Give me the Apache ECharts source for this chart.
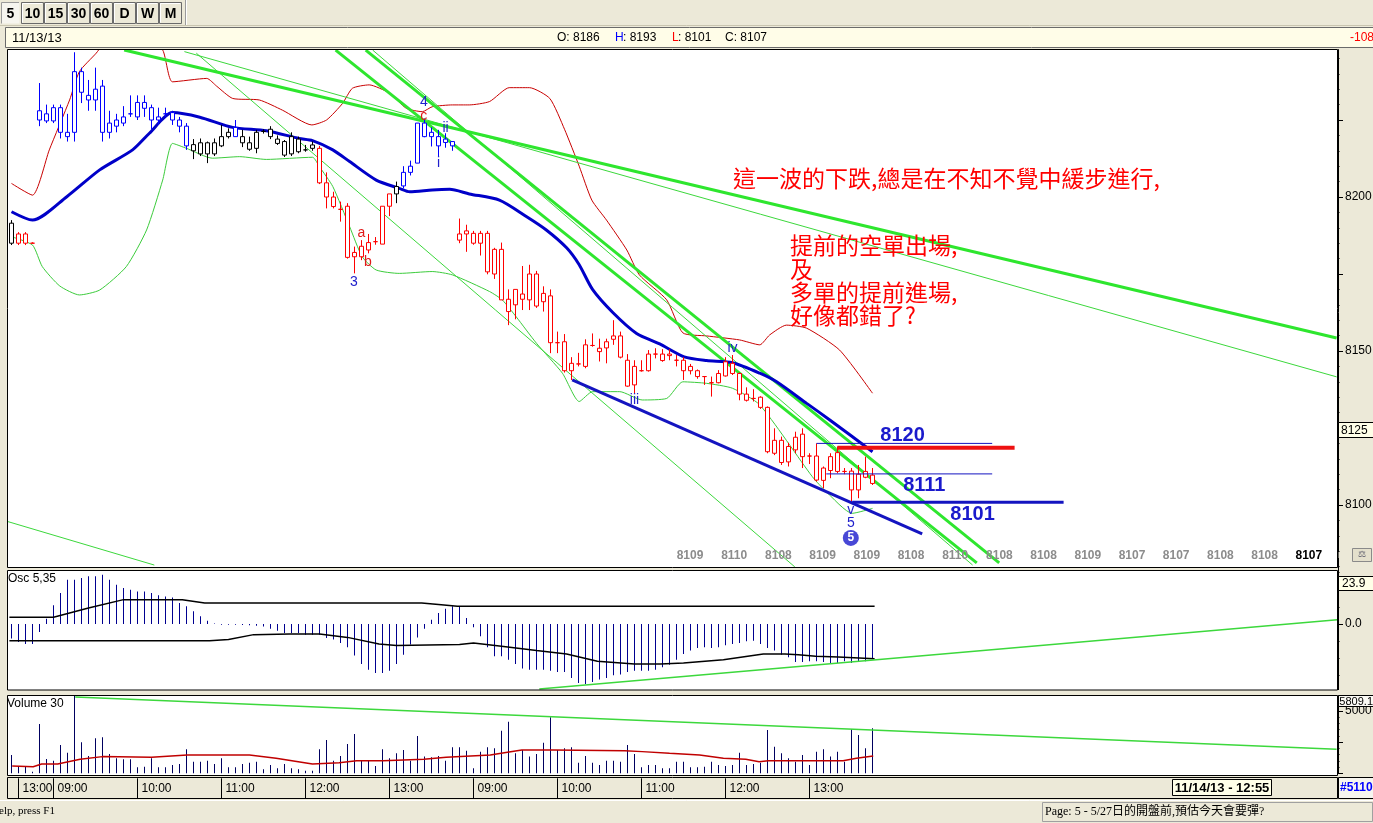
<!DOCTYPE html>
<html><head><meta charset="utf-8">
<script src="https://cdn.jsdelivr.net/npm/echarts@6.0.0/dist/echarts.min.js"></script>
<style>html,body{margin:0;padding:0;background:#ece9d8;overflow:hidden}#chart{width:1373px;height:823px}</style>
</head><body><div id="chart"></div>
<script>
// ================= DATA =================
// 5-minute candles: [open, close, low, high]
const candles = [
[8191.5,8185,8184.4,8192.5],[8185,8188,8184.4,8188.6],[8188,8185,8184.4,8188.6],[8185,8185,8185,8185.3],
[8225,8228,8223,8237],[8227,8224.7,8224,8230],[8224.7,8229,8224,8230],[8229,8221,8219,8230],
[8219.6,8221,8218,8227],[8221,8240.7,8218,8247],[8240.7,8234,8230.5,8242],[8233,8231.5,8228,8238],
[8231.5,8235,8228,8242],[8236,8221,8218,8238],[8221,8224,8219,8228],[8223,8225,8221,8227],
[8224,8226,8223,8229.5],[8227,8227,8226,8233],[8226,8230.7,8225,8233],[8230.7,8228.8,8226,8233],
[8229,8225,8222,8230],[8225,8226,8223.4,8229],[8227,8227,8226,8229],[8227.4,8225,8223.4,8228],
[8225,8223,8221,8226],[8223,8216.6,8215.3,8224],[8217,8215,8212.3,8218.8],[8214,8217.6,8213.3,8219],
[8217.6,8214,8211,8218],[8214,8217.6,8213.3,8219],[8216.6,8219.6,8216.2,8223.4],[8219.6,8221,8219,8222.3],
[8222.6,8219.6,8219.6,8225],[8219.6,8217.6,8216.2,8221.8],[8217.6,8215.5,8215,8219.6],[8215.8,8221,8214.2,8221.8],
[8221.3,8221.3,8220.6,8222],[8222,8219.6,8218.8,8223],[8218.8,8217.4,8216.9,8220],[8218,8213.6,8213,8218.5],
[8214,8219.6,8213.3,8221],[8218.8,8214.7,8214.2,8219.6],[8215.3,8215.3,8214.7,8216.9],[8215.8,8216.9,8215,8218],
[8215.8,8204.6,8204.2,8216.6],[8204.6,8200,8196.3,8208],[8200,8196.9,8196.3,8201.7],[8196,8196,8192,8198.5],
[8197,8180.4,8180,8198],[8180.6,8182,8175.2,8183.9],[8180.6,8184,8179.5,8186],[8182.8,8185.2,8181.7,8188],
[8185.5,8185.5,8184.5,8187],[8184.7,8197,8184.7,8197],[8197,8201,8193.8,8201],[8201,8203.4,8198,8205],
[8203.6,8208,8202.8,8210],[8208,8210,8207,8211.8],[8211,8224,8211,8224],[8224,8219.6,8219.4,8225.5],
[8221,8219.6,8216.4,8222.6],[8219.6,8216.6,8213,8221.8],[8217.7,8218.8,8216,8220.7],[8218,8216.6,8215,8218],
[8186,8188,8185,8193],[8188,8189,8182.2,8191],[8188.2,8185,8184.5,8189],[8185,8188.2,8181,8189],
[8188.2,8175.7,8174.9,8189],[8175,8183,8173.4,8183.5],[8183,8166.6,8166.6,8185.2],[8166.8,8162.8,8158.4,8170],
[8165,8170,8160.3,8170],[8168.5,8166.8,8163.3,8177.6],[8166.6,8175,8163.3,8178],[8175,8164.6,8164,8176],
[8166,8168.7,8162.8,8171],[8167.9,8152.7,8149.3,8170],[8152.7,8152.7,8149.3,8156.3],[8153,8143.6,8143,8155.5],
[8143.6,8146,8140.6,8148],[8145.8,8145.8,8145,8149.4],[8145,8152,8144.4,8153.8],[8151.8,8151.8,8151.4,8155.7],
[8150.9,8149.8,8146.6,8154],[8151,8153,8146,8154],[8153.8,8154.9,8152,8160],[8154.9,8148,8147.6,8156.3],
[8147,8138.6,8138.4,8149],[8139,8145,8136.3,8147],[8143.6,8143.6,8143.3,8147],[8143.6,8149,8143.3,8150.3],
[8149,8149,8147.6,8150.9],[8149,8146.9,8146.5,8150.6],[8148.5,8149,8147,8150.6],[8147,8147,8145,8148.7],
[8147,8143.6,8140.6,8148],[8145,8143.6,8142.4,8145.8],[8143.6,8141.7,8141,8144],[8141.7,8141.7,8139,8141.8],
[8139.7,8139.7,8135.2,8141.7],[8139.7,8142.7,8139.5,8143.8],[8141.9,8146.5,8141.7,8148],[8146,8142.7,8142.2,8148.7],
[8142.7,8136,8134,8143],[8136,8134,8133.6,8138.2],[8134.6,8134.6,8133.6,8137.6],[8135,8131.7,8131.2,8135.3],
[8131.7,8117.3,8116.8,8132],[8116.8,8121,8116.2,8124.9],[8121,8113.8,8113,8122.2],[8114,8119,8112.5,8120.2],
[8117.9,8122,8116.8,8123.8],[8123,8115.7,8112,8124.9],[8115.9,8115.9,8113.3,8116.8],[8115.9,8108.1,8107.6,8120],
[8108,8112,8105.4,8112.5],[8111.2,8115.7,8108.7,8116.8],[8117,8110.9,8110.3,8119],[8110.9,8110.9,8110,8112],
[8111,8104.9,8101,8112],[8104.9,8110,8102.2,8113],[8109,8110.9,8108.7,8115.7],[8109.7,8107,8106.5,8112]
];
// moving average (thick blue), upper band (red), lower band (green): [barIndex, price]
const maLine = [[0,8195.2],[3,8192.5],[7.9,8200.1],[12.6,8208.8],[17.3,8215.3],[19.7,8220.7],[23,8227.4],[26.9,8225.9],[31.6,8222.6],[36.4,8221.5],[41.1,8219],[43,8218.3],[45.9,8215.3],[48.3,8211.5],[52.1,8205.5],[55.4,8202.8],[56.9,8201.7],[60.1,8202.3],[62.6,8202.5],[65.4,8201],[69.7,8199],[73.6,8193.6],[76.4,8189.3],[79.3,8183.5],[81.1,8178],[83,8170],[85.9,8162.5],[89.3,8155.7],[92.6,8152.3],[96.1,8148.1],[99.3,8146.9],[103,8146.2],[106.9,8142.8],[109.3,8140],[113.6,8133],[116.9,8127.6],[123,8117.3]];
const upperBand = [[0,8204.4],[3,8200.6],[5.4,8215.3],[8.3,8231.5],[9.7,8240.7],[12.1,8246.7],[14,8252],[18.3,8255],[21.6,8247.7],[23,8237.4],[27.9,8238.5],[29.3,8236],[31.6,8232],[35.4,8231.5],[38.7,8228.2],[42.9,8223.4],[45,8225],[47.3,8230.4],[48.7,8235.3],[51.1,8236.4],[54,8233.7],[56.4,8228.8],[58.7,8227.7],[60.1,8229.3],[63,8229.9],[65.4,8229.9],[68.3,8231],[71.1,8235.5],[74,8235.5],[76.9,8232],[79,8222],[81.1,8210],[82.9,8199],[85,8192.5],[87.9,8182.8],[89.7,8174.7],[93.6,8166.6],[95.9,8155.9],[99.3,8154.9],[104,8153.6],[106.9,8152],[108.3,8155.2],[110.7,8158.4],[113.6,8157.4],[118.3,8150.3],[123,8136.3]];
const lowerBand = [[0,8187.1],[3,8184.4],[4.4,8177.4],[6.9,8171.1],[9.7,8168.2],[12.6,8169.8],[16.4,8177.4],[19.3,8189.3],[21.6,8205.5],[23,8217.4],[25,8215.8],[28.7,8212.6],[32.6,8213.1],[36.4,8212.2],[43,8212.9],[44,8209.8],[45.9,8203.4],[48.3,8190.4],[50.1,8180.6],[52.1,8176.3],[55.4,8175.2],[60.1,8175.8],[63,8174.7],[68.3,8169.3],[70.1,8166.6],[72.1,8161.1],[75,8152.5],[78.7,8142.8],[81.1,8133.6],[83,8136.8],[86.9,8136.8],[90.1,8134.1],[93.6,8134.6],[95.9,8140],[99.3,8139.5],[103,8137.9],[106.9,8132.5],[114.4,8109.2],[116.4,8104.3],[120.1,8097.3],[123,8098.9]];
// hand-drawn trend lines: [[barIndex, price],[barIndex, price]]
const thickGreenLines = [[[16.1,8247.7],[189.3,8154.2]],[[46.3,8247.7],[137.9,8081.2]],[[50.6,8247.7],[141.1,8081.2]]];
const thinGreenLines = [[[24.7,8247.2],[189.3,8141.6]],[[26.4,8246.7],[111.9,8079.9]],[[-0.5,8094.6],[20.4,8080.5]],[[51.6,8247.7],[137.3,8080.5]]];
const blueChannel = [[80.1,8140.6],[130.1,8090.6]];
const level8120 = [[115,8120],[140.1,8120]];
const redLevel = [[118,8118.6],[143.3,8118.6]];
const level8111 = [[116.4,8110.1],[140.1,8110.1]];
const level8101 = [[120.1,8100.9],[150.3,8100.9]];
const levelLabels = [['8120',127.3,8122.7],['8111',130.4,8106.2],['8101',137.3,8097]];
const waveLabels = [['4',58.9,8230.8],['c',58.9,8226.3],['ii',62,8222.4],['i',61,8211],['3',48.9,8172.4],['a',50,8188.3],['b',50.9,8178.9],['iii',89,8134.1],['iv',103,8151],['v',119.9,8098.4],['5',119.9,8094.2]];
const circledWave = [['5',119.9,8089.3]];
const projValues = ['8109','8110','8108','8109','8109','8108','8110','8108','8108','8109','8107','8107','8108','8108','8107'];
// oscillator 5,35 histogram
const osc = [-8.5,-10.5,-11.7,-11.7,-4.7,3.1,10.9,18.1,25.8,25.8,
26.8,27.8,27.8,28.7,25.8,22.9,21,20,19,19,
18.1,16.7,16.1,15.5,12.2,10.3,7.4,4.5,1.9,0.3,
-0.4,-0.5,-0.5,-0.6,-0.8,-1.0,-1.5,-2.7,-3.9,-5.2,
-5.2,-5.2,-6.2,-6.2,-6.2,-8.2,-9.1,-11.1,-13.6,-18.3,
-23.3,-26.6,-28.5,-28.5,-27.2,-23.3,-17.9,-12,-7.8,-2.7,
2.5,6.4,8.9,10.3,10.3,3.5,-1.9,-7.2,-13.6,-18.8,
-18.8,-20.8,-23.3,-26,-26.6,-26.6,-26.6,-27.2,-28,-28,
-31.5,-34.4,-35,-33.8,-32.4,-31.5,-29.9,-29.5,-28,-27.2,
-27.2,-27.2,-26.6,-25.2,-23.7,-20.8,-17.5,-15.5,-14,-13.6,
-14,-13.6,-12.4,-11.7,-11.1,-10.1,-9.7,-11.7,-14,-15.5,
-17.9,-19.4,-22.1,-22.1,-21.7,-21.7,-22.1,-22.7,-22.7,-21.7,
-22.7,-22.1,-21.7,-19.8];
const oscUpper = [[-0.3,3.9],[6,3.9],[11,9.3],[16,14.2],[24.4,14.2],[27.6,12.2],[58.6,12.2],[61,11.3],[63.7,10.3],[123.3,10.3]];
const oscLower = [[-0.3,-9.7],[28.3,-9.7],[31,-9],[34.6,-6.2],[39.7,-5.8],[44,-5.8],[48,-7.8],[52.5,-11.7],[55,-12.6],[64,-12],[66,-11.1],[70,-13],[75,-15.5],[79.3,-17.5],[83.7,-21.7],[89,-23.3],[92.7,-23.3],[96,-22.7],[101.7,-20.8],[107.4,-17.5],[110.5,-17.5],[112.4,-17.9],[114.9,-18.8],[118.1,-19.2],[123.3,-20.2]];
const oscTrend = [[75.4,-37.9],[189.4,2.5]];
// volume
const volume = [1469,530,530,128,3957,1148,1011,2271,1653,6204,
2488,1388,2809,2889,1549,1204,1124,1124,482,530,
1204,482,482,666,746,1926,931,931,1011,746,
1204,482,482,746,852,931,321,666,401,746,
401,321,209,209,1926,2675,1011,1388,2351,3154,
1011,1011,594,1926,1204,1605,1872,1011,2996,1338,
1284,1388,1011,2087,2087,1819,401,1739,2087,2007,
3421,4143,1605,1872,1338,1549,2458,4494,1872,2007,
2087,852,1388,852,666,1011,1011,931,2271,1549,
482,666,666,401,401,931,931,482,482,530,
931,666,586,666,1653,666,746,852,3475,2135,
1605,1204,931,1469,666,1739,1926,1338,1739,931,
3531,3074,2007,3612];
const volumeMA = [[0.1,586],[3.1,530],[4.3,746],[6.6,746],[9.8,1124],[13,1338],[20,1284],[25.1,1469],[34,1469],[37.8,1204],[43,746],[46.8,852],[49.3,1011],[53.1,1011],[58.9,1124],[62.1,1284],[68.4,1469],[70.4,1653],[72.9,1872],[77.4,1872],[87.6,1819],[90.1,1739],[94,1605],[98.3,1469],[101.7,1204],[104.9,1124],[106.8,931],[108.1,1011],[118.8,1011],[120.7,1204],[123.1,1388]];
const volumeTrend = [[9.1,6130],[189.3,1926]];
// time axis
const timeTickIndex = [1,6,18,30,42,54,66,78,90,102,114];
const timeTickText = ['13:00','09:00','10:00','11:00','12:00','13:00','09:00','10:00','11:00','12:00','13:00'];
const SLOTS = 190;
const categories = [];
['13:30','13:35','13:40','13:45'].forEach(t => categories.push('11/12 ' + t));
['11/13','11/14'].forEach(d => { for (let m = 8*60+50; m <= 13*60+45; m += 5) categories.push(d + ' ' + String(Math.floor(m/60)).padStart(2,'0') + ':' + String(m%60).padStart(2,'0')); });
while (categories.length < SLOTS) categories.push('');

// ================= STYLE =================
const BLUE='#0000ff', RED='#ff0000', BLACK='#000000';
const candleColorRuns = [[0,0,BLACK],[1,3,RED],[4,25,BLUE],[26,31,BLACK],[32,32,BLUE],[33,43,BLACK],[44,54,RED],[55,55,BLACK],[56,63,BLUE],[64,123,RED]];
function candleColor(i){ for (const r of candleColorRuns) if (i>=r[0] && i<=r[1]) return r[2]; return RED; }
const waveColors = {a:'#e01a1a', b:'#e01a1a', c:'#e01a1a'};
const FONT = 'Arial, "Liberation Sans", sans-serif';
const NARROWF = '"Liberation Sans Narrow","Arial Narrow",Arial,sans-serif';
const CHROME = '#ece9d8';

const chart = echarts.init(document.getElementById('chart'), null, {renderer:'canvas'});

const candleData = candles.map((d,i) => { const c = candleColor(i); return {value:d, itemStyle:{color:'#ffffff', color0:c, borderColor:c, borderColor0:c, borderColorDoji:c}}; });

function line(data, color, width, xi, yi, z, smooth){
  return {type:'line', xAxisIndex:xi, yAxisIndex:yi, data, symbol:'none', silent:true, smooth: smooth||false, z: z||3, lineStyle:{color, width}};
}
const tickSet = new Set(timeTickIndex);
const tickMap = {}; timeTickIndex.forEach((ix,k)=> tickMap[ix] = timeTickText[k]);
const txtLabel = (text, color, size, weight) => ({show:true, position:'inside', formatter:text, color, fontSize:size, fontWeight:weight||'normal', fontFamily:FONT, textBorderWidth:0, textShadowBlur:0, opacity:1});

const series = [];
series.push(line(lowerBand,'#3ccc3c',1,1,0,3,0.2));
series.push(line(upperBand,'#c80000',1,1,0,3,0.2));
thinGreenLines.forEach(s => series.push(line(s,'#3cd83c',1,1,0,3)));
thickGreenLines.forEach(s => series.push(line(s,'#2ee62e',3,1,0,3)));
series.push(line(maLine,'#0000c8',3,1,0,4,0.25));
series.push({type:'candlestick', xAxisIndex:0, yAxisIndex:0, data:candleData, barWidth:5, z:5, silent:true});
series.push(line(blueChannel,'#1414c0',3,1,0,6));
series.push(line(level8120,'#1414c0',1,1,0,6));
series.push(line(level8111,'#1414c0',1,1,0,6));
series.push(line(redLevel,'#ee1111',4,1,0,6));
series.push(line(level8101,'#1414c0',3,1,0,6));
series.push({type:'scatter', xAxisIndex:1, yAxisIndex:0, silent:true, z:10, symbolSize:1, itemStyle:{color:'#ffffff', opacity:0},
  data: levelLabels.map(l => ({value:[l[1],l[2]], label: txtLabel(l[0], '#1a1acc', 20, 'bold')}))});
series.push({type:'scatter', xAxisIndex:1, yAxisIndex:0, silent:true, z:10, symbolSize:1, itemStyle:{color:'#ffffff', opacity:0},
  data: waveLabels.map(l => ({value:[l[1],l[2]], label: txtLabel(l[0], waveColors[l[0]] || '#2020cc', 14)}))});
series.push({type:'scatter', xAxisIndex:1, yAxisIndex:0, silent:true, z:10, symbol:'circle', symbolSize:16, itemStyle:{color:'#1a1acc'},
  data: circledWave.map(l => ({value:[l[1],l[2]], label: txtLabel(l[0], '#ffffff', 12, 'bold')}))});
// oscillator
series.push({type:'bar', xAxisIndex:2, yAxisIndex:1, data:osc, barWidth:1, silent:true, itemStyle:{color:'#000090'}, z:3});
series.push(line(oscUpper,'#000',1.5,3,1,4));
series.push(line(oscLower,'#000',1.5,3,1,4));
series.push(line(oscTrend,'#3cd83c',1.5,3,1,5));
// volume
series.push({type:'bar', xAxisIndex:4, yAxisIndex:2, data:volume, barWidth:1, silent:true, itemStyle:{color:'#000060'}, z:3});
series.push(line(volumeMA,'#c00000',1.5,5,2,4));
series.push(line(volumeTrend,'#3cd83c',1.5,5,2,5));

// ================= UI CHROME (graphic) =================
const UI = [];
const R = (x,y,w,h,fill,stroke,z,lw) => UI.push({type:'rect', silent:true, z:z, shape:{x,y,width:w,height:h}, style:{fill:fill||'none', stroke:stroke||'none', lineWidth:lw||1}});
const T = (x,y,s,font,fill,z,align) => UI.push({type:'text', silent:true, z:z||60, x, y, style:{text:s, font, fill:fill||'#000', align:align||'left', verticalAlign:'middle', textAlign:align||'left', textVerticalAlign:'middle'}});
const Ln = (x1,y1,x2,y2,stroke,z,lw) => UI.push({type:'line', silent:true, z:z||60, shape:{x1,y1,x2,y2}, style:{stroke, lineWidth:lw||1}});

// panel backgrounds
R(8,50,1330,517,'#ffffff',null,-5);
R(8,571,1330,119,'#ffffff',null,-5);
R(8,696,1330,79,'#ffffff',null,-5);
R(7.5,777.5,1330,21,CHROME,'#000',-4);
// covers
R(0,0,1373,49.2,CHROME,null,50);
R(0,567.6,1337.5,2.8,CHROME,null,50);
R(0,690,1373,5.3,CHROME,null,50);
R(1338.6,552,12,6,CHROME,null,50);
// frames
R(7.5,49.5,1330,518,null,'#000',55);
R(7.5,570.5,1330,119.5,null,'#000',55);
R(7.5,695.5,1330,80,null,'#000',55);
// toolbar
const buttons = [['5',1,18,true],['10',21,22],['15',44,22],['30',67,22],['60',90,22],['D',113,22],['W',136,22],['M',159,22]];
buttons.forEach(b => {
  if (b[3]) { R(b[1]+0.5,2.5,b[2],21,'#f6f5ef',null,60); Ln(b[1]+0.5,2.5,b[1]+b[2],2.5,'#9a9a9a',61); Ln(b[1]+0.5,2.5,b[1]+0.5,23.5,'#9a9a9a',61); }
  else { R(b[1]+0.5,2.5,b[2],21,'#ece9d8','#6a6a6a',60); Ln(b[1]+1.5,3.5,b[1]+b[2]-1,3.5,'#ffffff',61); Ln(b[1]+1.5,3.5,b[1]+1.5,22.5,'#ffffff',61); }
  T(b[1]+b[2]/2+0.5,14,b[0],'bold 14px '+FONT,'#000',62,'center');
});
Ln(185.5,0,185.5,26,'#9a9a9a',60); Ln(186.5,0,186.5,26,'#ffffff',60);
Ln(0,25.5,1373,25.5,'#c9c5b0',60);
// header
R(5.5,27.5,1368,20,'#fffde8','#6a6a6a',60);
T(12,38,'11/13/13','13px '+FONT,'#000',61);
T(557,38,'O: 8186','12px '+NARROWF,'#000',61);
T(615,38,'H','12px '+NARROWF,'#0000ff',61); T(623,38,': 8193','12px '+NARROWF,'#000',61);
T(672,38,'L','12px '+NARROWF,'#ff0000',61); T(678,38,': 8101','12px '+NARROWF,'#000',61);
T(725,38,'C: 8107','12px '+NARROWF,'#000',61);
T(1350,38,'-108','12px '+NARROWF,'#ff0000',61);
// panel titles
T(8,579,'Osc 5,35','12px '+FONT,'#000',60);
T(7,704,'Volume 30','12px '+FONT,'#000',60);
// right axis boxes
R(1338.5,422.5,35,15,'#ffffe8','#000',60); T(1341,430.5,'8125','12px '+FONT,'#000',61);
R(1338.5,576.5,35,14,'#ffffe8','#000',60); T(1342,584,'23.9','12px '+NARROWF,'#000',61);
R(1338.5,695.5,35,11,'#fbfaf5','#000',60); T(1373,701.5,'5809.1','11px '+NARROWF,'#000',61,'right');
R(1352.5,548.5,19,13,'#e4e0cc','#8a8a8a',60); T(1362,555,'⚖','9px sans-serif','#556',61,'center');
// projection labels under candles
projValues.forEach((v,k) => T(690 + k*44.2, 556, v, 'bold 12px '+FONT, k === projValues.length-1 ? '#000' : '#8c8c8c', 20, 'center'));
// commentary text
const CJK = '"Noto Sans CJK TC","Noto Sans CJK SC",sans-serif';
T(733,178,'這一波的下跌,總是在不知不覺中緩步進行,','23px '+CJK,'#ff0000',20);
T(790,245,'提前的空單出場,','23px '+CJK,'#ff0000',20);
T(790,269,'及','23px '+CJK,'#ff0000',20);
T(790,292,'多單的提前進場,','23px '+CJK,'#ff0000',20);
T(790,315,'好像都錯了?','23px '+CJK,'#ff0000',20);
// time axis extras
R(1172.5,779.5,99,16,'#ffffe8','#000',60); T(1222,788,'11/14/13 - 12:55','bold 13px '+FONT,'#000',61,'center');
R(1338.5,777.5,35,21,'#f6f5ef','#000',60); T(1340,788,'#5110','bold 12px '+FONT,'#0000ff',61);
// status bar
R(0,800,1373,23,CHROME,null,60); Ln(0,800.5,1373,800.5,'#ffffff',61);
T(-1,811,'elp, press F1','11px "Liberation Serif",serif','#000',61);
R(1042.5,802.5,330,19,null,'#a0a0a0',61);
T(1045,812,'Page: 5 - 5/27日的開盤前,預估今天會要彈?','12px "Liberation Serif","Noto Sans CJK TC",serif','#000',62);

// ================= AXES =================
const gridBase = {left:8, width:1330, containLabel:false, outerBoundsMode:'none', show:false};
const hiddenCat = (gi) => ({type:'category', gridIndex:gi, data:categories, boundaryGap:true, show:false, axisLine:{onZero:false}});
const hiddenVal = (gi) => ({type:'value', gridIndex:gi, min:-0.5, max:SLOTS-0.5, show:false, splitLine:{show:false}, axisLine:{onZero:false}});
const yBase = (gi, min, max, interval, minorSplit, fmt) => ({
  type:'value', gridIndex:gi, position:'right', min, max, interval, scale:false,
  axisLine:{show:true, onZero:false, lineStyle:{color:'#000', width:1}},
  axisTick:{show:true, inside:false, length:5, lineStyle:{color:'#000'}},
  minorTick:{show:true, splitNumber:minorSplit, length:1.5, lineStyle:{color:'#000'}},
  splitLine:{show:false}, minorSplitLine:{show:false},
  axisLabel:{inside:false, margin:7, color:'#000', fontSize:12, fontFamily:FONT, formatter:fmt, showMinLabel:true, showMaxLabel:true}
});

const option = {
  animation:false,
  backgroundColor:CHROME,
  textStyle:{fontFamily:FONT},
  grid:[
    Object.assign({top:43, height:539}, gridBase),
    Object.assign({top:555.38, height:137.24}, gridBase),
    Object.assign({top:695.4, height:77.9}, gridBase)
  ],
  xAxis:[
    hiddenCat(0), hiddenVal(0),
    hiddenCat(1), hiddenVal(1),
    {type:'category', gridIndex:2, data:categories, boundaryGap:true, position:'bottom', offset:5,
      axisLine:{show:false, onZero:false},
      axisTick:{show:true, alignWithLabel:true, length:20, interval:(i)=>tickSet.has(i), lineStyle:{color:'#000', width:1}},
      axisLabel:{show:true, interval:(i)=>tickSet.has(i), formatter:(v,i)=> tickMap[i] || '', align:'left', padding:[0,0,0,4], margin:4, color:'#000', fontSize:12, fontFamily:FONT},
      splitLine:{show:false}},
    hiddenVal(2)
  ],
  yAxis:[
    yBase(0, 8075, 8250, 25, 5, v => (v % 50 === 0 && v > 8075 && v < 8250) ? String(v) : ''),
    yBase(1, -40, 40, 40, 4, v => v === 0 ? '0.0' : ''),
    yBase(2, 0, 6250, 2500, 5, v => v === 5000 ? '5000' : '')
  ],
  graphic:{elements:UI},
  series
};
chart.setOption(option);
</script></body></html>
